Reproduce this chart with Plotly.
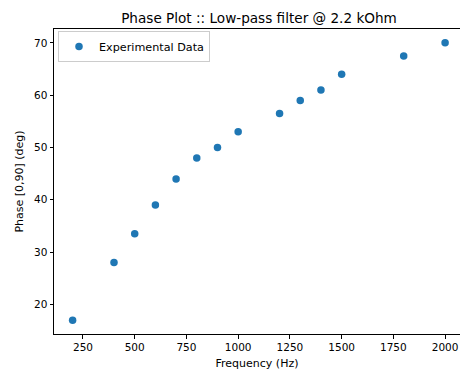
import plotly.graph_objects as go

freq_hz = [200, 400, 500, 600, 700, 800, 900, 1000, 1200, 1300, 1400, 1500, 1800, 2000]
phase_deg = [17, 28, 33.5, 39, 44, 48, 50, 53, 56.5, 59, 61, 64, 67.5, 70]
x_ticks = [250, 500, 750, 1000, 1250, 1500, 1750, 2000]
y_ticks = [20, 30, 40, 50, 60, 70]

W, H = 460, 371
L, R, T, B = 54, 0, 29, 37
FONT = "DejaVu Sans"

fig = go.Figure()
fig.add_trace(go.Scatter(
    x=freq_hz, y=phase_deg, mode="markers", name="Experimental Data",
    marker=dict(color="#1f77b4", size=7.5, line=dict(width=0)),
))

axis_common = dict(
    showgrid=False, zeroline=False, showline=True, linecolor="black", linewidth=1,
    ticks="outside", ticklen=3.5, tickwidth=1, tickcolor="black",
    tickfont=dict(family=FONT, size=10.5, color="black"),
)

fig.update_layout(
    width=W, height=H,
    margin=dict(l=L, r=R, t=T, b=B, pad=0),
    paper_bgcolor="white", plot_bgcolor="white",
    font=dict(family=FONT, color="black"),
    title=dict(text="Phase Plot :: Low-pass filter @ 2.2 kOhm",
               font=dict(family=FONT, size=13.6, color="black"),
               x=259 / W, xref="container", xanchor="center",
               y=1 - 18 / H, yref="container", yanchor="middle"),
    xaxis=dict(range=[110, 2072], tickvals=x_ticks, mirror=True,
               title=dict(text="Frequency (Hz)", font=dict(family=FONT, size=11), standoff=7),
               **axis_common),
    yaxis=dict(range=[14.35, 72.65], tickvals=y_ticks,
               title=dict(text="Phase [0,90] (deg)", font=dict(family=FONT, size=11), standoff=8),
               **axis_common),
    showlegend=True,
    legend=dict(x=(58 - L) / (W - L - R), y=1 - 2 / (H - T - B), xanchor="left", yanchor="top",
                bgcolor="rgba(255,255,255,0.8)", bordercolor="#cccccc", borderwidth=1,
                font=dict(family=FONT, size=11.2, color="black"), itemwidth=30),
)

fig.write_html("out.html")
